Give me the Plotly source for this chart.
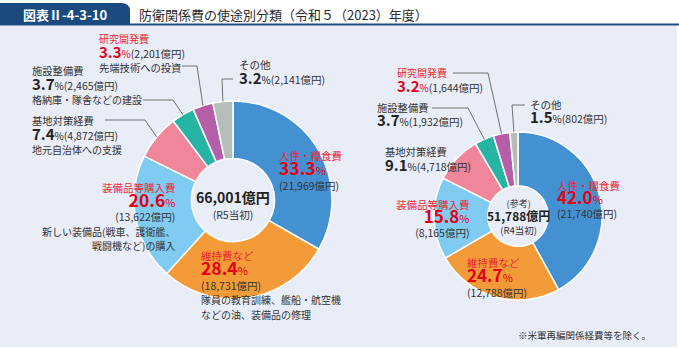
import math
import plotly.graph_objects as go

W, H = 679, 350

# ---------------- data ----------------
categories = ["人件・糧食費", "維持費など", "装備品等購入費", "基地対策経費", "施設整備費", "研究開発費", "その他"]
colors = ["#4391d1", "#f29b38", "#7fcbf1", "#ef8699", "#26b4a4", "#b45fa7", "#b6bdb9"]

r5_values = [21969, 18731, 13622, 4872, 2465, 2201, 2141]
r5_pct = ["33.3", "28.4", "20.6", "7.4", "3.7", "3.3", "3.2"]
r5_total = "66,001億円"
r5_note = "(R5当初)"

r4_values = [21740, 12788, 8165, 4718, 1932, 1644, 802]
r4_pct = ["42.0", "24.7", "15.8", "9.1", "3.7", "3.2", "1.5"]
r4_total = "51,788億円"
r4_note = "(R4当初)"
r4_ref = "(参考)"

descriptions = {
    "維持費など": ["隊員の教育訓練、艦船・航空機", "などの油、装備品の修理"],
    "装備品等購入費": ["新しい装備品(戦車、護衛艦、", "戦闘機など)の購入"],
    "基地対策経費": ["地元自治体への支援"],
    "施設整備費": ["格納庫・隊舎などの建設"],
    "研究開発費": ["先端技術への投資"],
}

title = "防衛関係費の使途別分類（令和５（2023）年度）"
fig_no = "図表Ⅱ-4-3-10"
footnote = "※米軍再編関係経費等を除く。"

FONT = "Noto Sans CJK JP"
RED = "#e60012"
LRED = "#ea2a35"
DARK = "#333333"
BLK = "#222222"


def fmt(v):
    return f"{v:,}億円"


def X(px):
    return px / W


def Y(py):
    return 1 - py / H


# pie geometry (pixels)
L = dict(cx=233, cy=200, R=99, hole=0.42)
Rg = dict(cx=518, cy=216, R=84, hole=0.36)

fig = go.Figure()
for g, vals in ((L, r5_values), (Rg, r4_values)):
    fig.add_trace(go.Pie(
        labels=categories, values=vals, sort=False, direction="clockwise", rotation=0,
        hole=g["hole"], marker=dict(colors=colors, line=dict(color="white", width=1.5)),
        textinfo="none", hoverinfo="label+value+percent", showlegend=False,
        domain=dict(x=[X(g["cx"] - g["R"]), X(g["cx"] + g["R"])],
                    y=[Y(g["cy"] + g["R"]), Y(g["cy"] - g["R"])]),
    ))

annotations = []
shapes = []


def span(t, size=10, color=DARK, bold=False):
    t = f"<b>{t}</b>" if bold else t
    return f"<span style='font-size:{size}px;color:{color}'>{t}</span>"


def group(x, y_first, lines, pitch, anchor="left"):
    """Multi-line label block; pitch = line distance in px."""
    n = len(lines)
    base = pitch / 1.3
    yc = y_first + (n - 1) * pitch / 2
    annotations.append(dict(x=X(x), y=Y(yc), xref="paper", yref="paper",
                            text="<br>".join(lines), showarrow=False,
                            xanchor=anchor, yanchor="middle", align=anchor,
                            font=dict(family=FONT, size=base, color=DARK)))


def pct_line(p, big, col, amount=None, pctsize=10):
    s = span(p, big, col, True) + span("%", pctsize, col)
    if amount is not None:
        s += span(f"({fmt(amount)})", 10.5, DARK)
    return s


def slice_point(g, vals, idx, rfac=1.0):
    tot = sum(vals)
    cum = sum(vals[:idx]) + vals[idx] / 2
    a = 2 * math.pi * cum / tot
    r = g["R"] * rfac
    return g["cx"] + r * math.sin(a), g["cy"] - r * math.cos(a)


def leader(g, vals, idx, x0, y0, xe):
    px, py = slice_point(g, vals, idx)
    path = f"M {X(x0)} {Y(y0)} L {X(xe)} {Y(y0)} L {X(px)} {Y(py)}"
    shapes.append(dict(type="path", xref="paper", yref="paper", path=path,
                       line=dict(color="#707070", width=1)))


# ---------- background & header ----------
shapes.append(dict(type="rect", xref="paper", yref="paper", x0=X(0), x1=X(677), y0=Y(347), y1=Y(26),
                   fillcolor="#e9edf8", line=dict(width=0), layer="below"))
shapes.append(dict(type="rect", xref="paper", yref="paper", x0=X(0), x1=X(679), y0=Y(25.5), y1=Y(23.5),
                   fillcolor="#1b4a80", line=dict(width=0), layer="below"))
tab = (f"M {X(0)} {Y(24)} L {X(0)} {Y(3)} L {X(121)} {Y(3)} "
       f"Q {X(130)} {Y(3)} {X(130)} {Y(11)} L {X(130)} {Y(24)} Z")
shapes.append(dict(type="path", xref="paper", yref="paper", path=tab,
                   fillcolor="#1b4a80", line=dict(width=0), layer="below"))
annotations.append(dict(x=X(65), y=Y(14), xref="paper", yref="paper", text=f"<b>{fig_no}</b>",
                        showarrow=False, xanchor="center", yanchor="middle",
                        font=dict(family=FONT, size=13, color="white")))
annotations.append(dict(x=X(137), y=Y(14), xref="paper", yref="paper", text=title,
                        showarrow=False, xanchor="left", yanchor="middle",
                        font=dict(family=FONT, size=13, color="#2b2b2b")))

# ---------- left chart (R5) ----------
v, p = r5_values, r5_pct
group(97, 38, [span(categories[5], 10, LRED), pct_line(p[5], 15, RED, v[5]),
               span(descriptions["研究開発費"][0], 10.3)], 14.5)
leader(L, v, 5, 182, 66, 197)
group(237, 65, [span(categories[6], 10.5), pct_line(p[6], 15, BLK, v[6])], 15)
leader(L, v, 6, 233, 79, 222)
group(30, 71, [span(categories[4], 10.3), pct_line(p[4], 15, BLK, v[4]),
               span(descriptions["施設整備費"][0], 10)], 14.5)
leader(L, v, 4, 143, 100, 173)
group(30, 120, [span(categories[3], 10.3), pct_line(p[3], 15, BLK, v[3]),
                span(descriptions["基地対策経費"][0], 10)], 14.5)
leader(L, v, 3, 105, 120, 145)
group(177, 187, [span(categories[2], 10.5, LRED), pct_line(p[2], 17.5, RED, None, 11),
                 span(f"({fmt(v[2])})", 10.5), span(descriptions["装備品等購入費"][0], 10),
                 span(descriptions["装備品等購入費"][1], 10)], 14.5, anchor="right")
group(277, 155, [span(categories[0], 10.5, LRED), pct_line(p[0], 17.5, RED, None, 11),
                 span(f"({fmt(v[0])})", 10.5)], 15)
group(199, 255, [span(categories[1], 10.5, LRED), pct_line(p[1], 17.5, RED, None, 11),
                 span(f"({fmt(v[1])})", 10.5), span(descriptions["維持費など"][0], 10),
                 span(descriptions["維持費など"][1], 10)], 14.75)
group(L["cx"], 197, [span(r5_total, 14, BLK, True), span(r5_note, 10.5)], 15.5, anchor="center")

# ---------- right chart (R4) ----------
v, p = r4_values, r4_pct
group(395, 73, [span(categories[5], 10, LRED), pct_line(p[5], 15, RED, v[5])], 15)
leader(Rg, v, 5, 453, 73, 488)
group(375, 108, [span(categories[4], 10.3), pct_line(p[4], 15, BLK, v[4])], 14)
leader(Rg, v, 4, 432, 108, 468)
group(528, 105, [span(categories[6], 10.5), pct_line(p[6], 15, BLK, v[6])], 14)
leader(Rg, v, 6, 525, 105, 512)
group(383, 152, [span(categories[3], 10.3), pct_line(p[3], 15, BLK, v[3])], 15)
group(555, 185, [span(categories[0], 10.5, LRED), pct_line(p[0], 17, RED, None, 11),
                 span(f"({fmt(v[0])})", 10.5)], 14)
group(472, 205, [span(categories[2], 10.5, LRED), pct_line(p[2], 17, RED, None, 11),
                 span(f"({fmt(v[2])})", 10.5)], 14, anchor="right")
group(465, 262, [span(categories[1], 10.5, LRED), pct_line(p[1], 17, RED, None, 11),
                 span(f"({fmt(v[1])})", 10.5)], 15)
group(Rg["cx"], 203, [span(r4_ref, 9), span(r4_total, 12, BLK, True), span(r4_note, 9.5)],
      13.5, anchor="center")

annotations.append(dict(x=X(653), y=Y(335), xref="paper", yref="paper", text=footnote,
                        showarrow=False, xanchor="right", yanchor="middle",
                        font=dict(family=FONT, size=9.5, color=DARK)))

fig.update_layout(
    width=W, height=H, margin=dict(l=0, r=0, t=0, b=0),
    paper_bgcolor="white", plot_bgcolor="white",
    shapes=shapes, annotations=annotations, showlegend=False,
    font=dict(family=FONT),
)
fig.write_html("out.html")
